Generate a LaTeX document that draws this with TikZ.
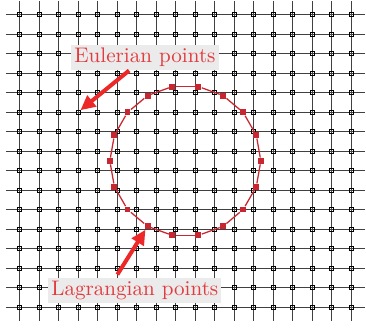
\documentclass[tikz,border=0pt]{standalone}
\usepackage{xcolor}
\usetikzlibrary{arrows.meta}
\definecolor{lagred}{RGB}{200,38,48}
\definecolor{arrred}{RGB}{236,40,40}
\definecolor{txtred}{RGB}{226,58,62}
\definecolor{boxgray}{RGB}{235,235,235}

\begin{document}
\begin{tikzpicture}[x=3.25mm,y=3.25mm,>={Triangle[length=7pt,width=6.5pt]},every node/.style={font=\normalsize},gridline/.style={line width=0.45pt,black!75},epoint/.style={draw,rectangle,inner sep=0pt,minimum size=1.9pt,line width=0.4pt},lpoint/.style={fill=lagred,rectangle,inner sep=0pt,minimum size=2.8pt},lbl/.style={fill=boxgray,text=txtred,inner sep=1.5pt},pointer/.style={->,line width=1.9pt,draw=arrred}]
\useasboundingbox (-1,-1.12) rectangle (17.76,15.75);
\foreach \j in {0,...,15} \draw[gridline] (-0.7,\j) -- (17.7,\j);
\foreach \i in {0,...,17} \draw[gridline] (\i,-0.7) -- (\i,15.7);
\foreach \i in {0,...,17} \foreach \j in {0,...,15} \node[epoint] (e-\i-\j) at (\i,\j) {};
\coordinate (c) at (8.5,7.5);
\foreach \k in {0,...,17} \node[lpoint] (l-\k) at ([shift={(\k*20:3.87)}]c) {};
\foreach \k [remember=\k as \p (initially 17)] in {0,...,17} \draw[lagred,line width=0.6pt] (l-\p) -- (l-\k);
\node[lbl] (euler) at (6.43,12.8) {Eulerian points};
\node[lbl] (lagrange) at (5.91,0.86) {Lagrangian points};
\draw[pointer] (euler) -- (e-3-10);
\draw[pointer] ([xshift=-2.9mm,yshift=0.5mm]lagrange.north) -- (l-12);
\end{tikzpicture}
\end{document}
